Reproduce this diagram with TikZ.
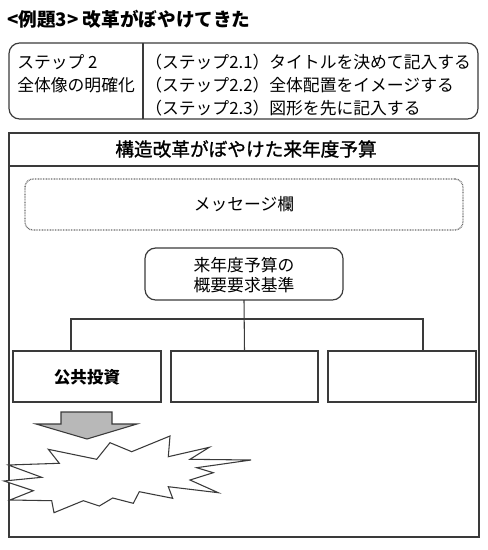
\documentclass[tikz,border=0pt]{standalone}
\usepackage{fontspec}
\setmainfont{Noto Sans CJK JP}
\newfontfamily\medfont{Noto Sans CJK JP}[FakeBold=1.2]
\usetikzlibrary{fit}
\definecolor{linec}{HTML}{3A3A3A}
\definecolor{arrowfill}{HTML}{B8B8B8}
\tikzset{
  box/.style={draw=linec, line width=0.9pt, inner sep=0pt, outer sep=0pt},
  rbox/.style={box, rounded corners=8pt},
  msgbox/.style={draw=gray!85!black, line width=1pt, dash pattern=on 0.6pt off 0.6pt, rounded corners=6pt, inner sep=0pt, outer sep=0pt},
  conn/.style={draw=linec, line width=0.8pt},
  txt/.style={font=\fontsize{12.6}{17.25}\selectfont, inner sep=0pt},
  bigtxt/.style={font=\bfseries\fontsize{14}{16}\selectfont, inner sep=0pt},
  medtxt/.style={font=\medfont\fontsize{14}{16}\selectfont, inner sep=0pt},
  boldtxt/.style={font=\bfseries\fontsize{12.4}{15}\selectfont, inner sep=0pt},
}
\begin{document}
\begin{tikzpicture}[x=0.75pt,y=-0.75pt]
\useasboundingbox (0,0) rectangle (488,550);
% heading
\node[bigtxt, anchor=west] (head) at (7,19) {<例題3> 改革がぼやけてきた};
% step box
\node[rbox, fit={(9,43) (478,119)}] (stepbox) {};
\coordinate (div) at (143,0);
\draw[conn] (stepbox.north -| div) -- (stepbox.south -| div);
\node[txt, anchor=west] (s1) at (17,62) {ステップ 2};
\node[txt, anchor=west] (s2) at (17,85) {全体像の明確化};
\node[txt, anchor=west] (r1) at (145,62) {（ステップ2.1）タイトルを決めて記入する};
\node[txt, anchor=west] (r2) at (145,85) {（ステップ2.2）全体配置をイメージする};
\node[txt, anchor=west] (r3) at (145,108) {（ステップ2.3）図形を先に記入する};
% big frame
\node[box, fit={(9,133) (479,537)}] (frame) {};
\coordinate (tl) at (0,166);
\draw[conn] (frame.west |- tl) -- (frame.east |- tl);
\node[medtxt] (ftitle) at (246,149) {構造改革がぼやけた来年度予算};
% message box
\node[msgbox, fit={(25,179) (463,230)}] (msg) {};
\node[txt] (msgt) at (msg.center) {メッセージ欄};
% budget
\node[rbox, fit={(145,248) (343,300)}] (budget) {};
\node[txt, align=center, font=\fontsize{12.6}{15}\selectfont] (budgett) at (244,275.5) {来年度予算の\\概要要求基準};
% three boxes
\node[box, fit={(13,351) (161,402)}] (b1) {};
\node[box, fit={(171,351) (318,402)}] (b2) {};
\node[box, fit={(328,351) (476,402)}] (b3) {};
\node[boldtxt] (b1t) at (87,377) {公共投資};
% tree connectors
\coordinate (jl) at (71,319);
\coordinate (jr) at (423,319);
\draw[conn] (budget.south) -- (b2.north);
\draw[conn] (jl |- b1.north) -- (jl) -- (jr) -- (jr |- b3.north);
% block arrow
\draw[draw=linec, line width=0.8pt, fill=arrowfill] (61,412) -- (112,412) -- (112,424) -- (137,424) -- (87,439) -- (36,424) -- (61,424) -- cycle;
% explosion
\draw[draw=linec, line width=0.8pt, fill=white]
 (48.3,449.3) -- (59.3,463.3) -- (8.3,465) -- (41.7,477.3) -- (4,481) -- (33.3,490.7) -- (10,500) -- (51.7,500.7) -- (54,512.7) -- (83.3,500.7) -- (99.3,506) -- (112.7,498) -- (133.3,503.3) -- (139.3,491.7) -- (172.7,498.3) -- (168.3,486.7) -- (218.3,492.7) -- (190,480) -- (213.3,472.7) -- (196.7,467.7) -- (251,460) -- (190,459.3) -- (209.3,447.3) -- (168.3,456.7) -- (170,436) -- (131.7,451.7) -- (110,442.7) -- (96.7,459.3) -- cycle;
\end{tikzpicture}
\end{document}
